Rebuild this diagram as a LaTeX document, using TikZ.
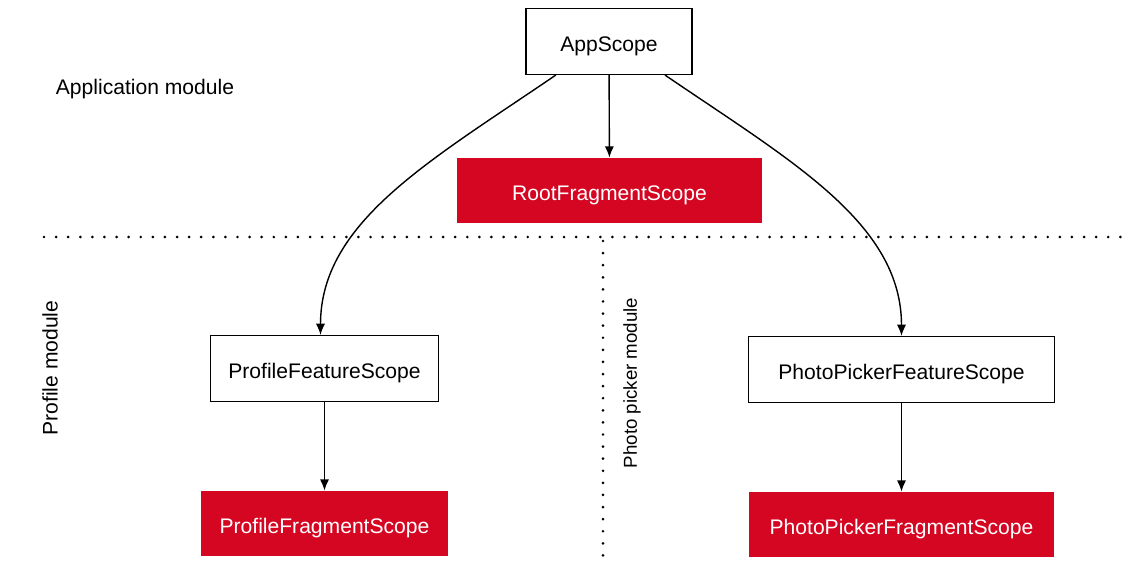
\documentclass[tikz,border=0pt]{standalone}
\usepackage{fontspec}
\setmainfont{Liberation Sans}
\usetikzlibrary{arrows.meta}
\usetikzlibrary{positioning}
\definecolor{scopered}{HTML}{D50622}

\begin{document}
\begin{tikzpicture}[x=0.025cm, y=-0.025cm,
					scope/.style={rectangle, draw=black, line width=0.8pt, fill=white, minimum height=1.65cm, text height=14pt, text depth=0pt, font=\fontsize{15}{18}\selectfont},
					frag/.style={rectangle, fill=scopered, text=white, minimum height=1.63cm, text height=14pt, text depth=0pt, font=\fontsize{15}{18}\selectfont},
					lbl/.style={font=\fontsize{15}{18}\selectfont},
					border/.style={line width=2.1pt, line cap=round, dash pattern=on 0pt off 8.6pt},
					link/.style={-{Latex[length=8pt, width=6.5pt]}, line width=1pt}
					]
					\useasboundingbox (0,0) rectangle (1131,586);
					
					%Nodes
					\node[scope, minimum width=4.15cm]  (app)   at (609, 41.5)   {AppScope};
					\node[frag, minimum width=7.63cm]   (root)  at (609.5, 190.5) {RootFragmentScope};
					\node[scope, minimum width=5.68cm]  (pfeat) at (324.5, 368.5) {ProfileFeatureScope};
					\node[frag, minimum width=6.18cm]   (pfrag) at (324.5, 523.5) {ProfileFragmentScope};
					\node[scope, minimum width=7.63cm]  (kfeat) at (901.5, 369.5) {PhotoPickerFeatureScope};
					\node[frag, minimum width=7.63cm]   (kfrag) at (901.5, 524.5) {PhotoPickerFragmentScope};
					
					%Labels
					\node[lbl] (appmod) at (145, 89) {Application module};
					\node[lbl, rotate=90] (promod) at (50, 368) {Profile module};
					\node[lbl, rotate=90, font=\fontsize{13.3}{16}\selectfont] (picmod) at (632, 383) {Photo picker module};
					
					%Borders
					\coordinate (hl) at (44, 237);
					\coordinate (hr) at (1131, 237);
					\coordinate (vt) at (603, 241);
					\coordinate (vb) at (603, 564);
					\draw[border] (hl) -- (hr);
					\draw[border] (vt) -- (vb);
					
					%Lines
					\draw[link] (app) to (root);
					\draw[link] ([xshift=-1.33cm]app.south) .. controls +(-126,86) and +(0,-113) .. ([xshift=-0.1cm]pfeat.north);
					\draw[link] ([xshift=1.4cm]app.south) .. controls +(126,86) and +(0,-113) .. (kfeat.north);
					\draw[link] (pfeat) to (pfrag);
					\draw[link] (kfeat) to (kfrag);
				\end{tikzpicture}
\end{document}
